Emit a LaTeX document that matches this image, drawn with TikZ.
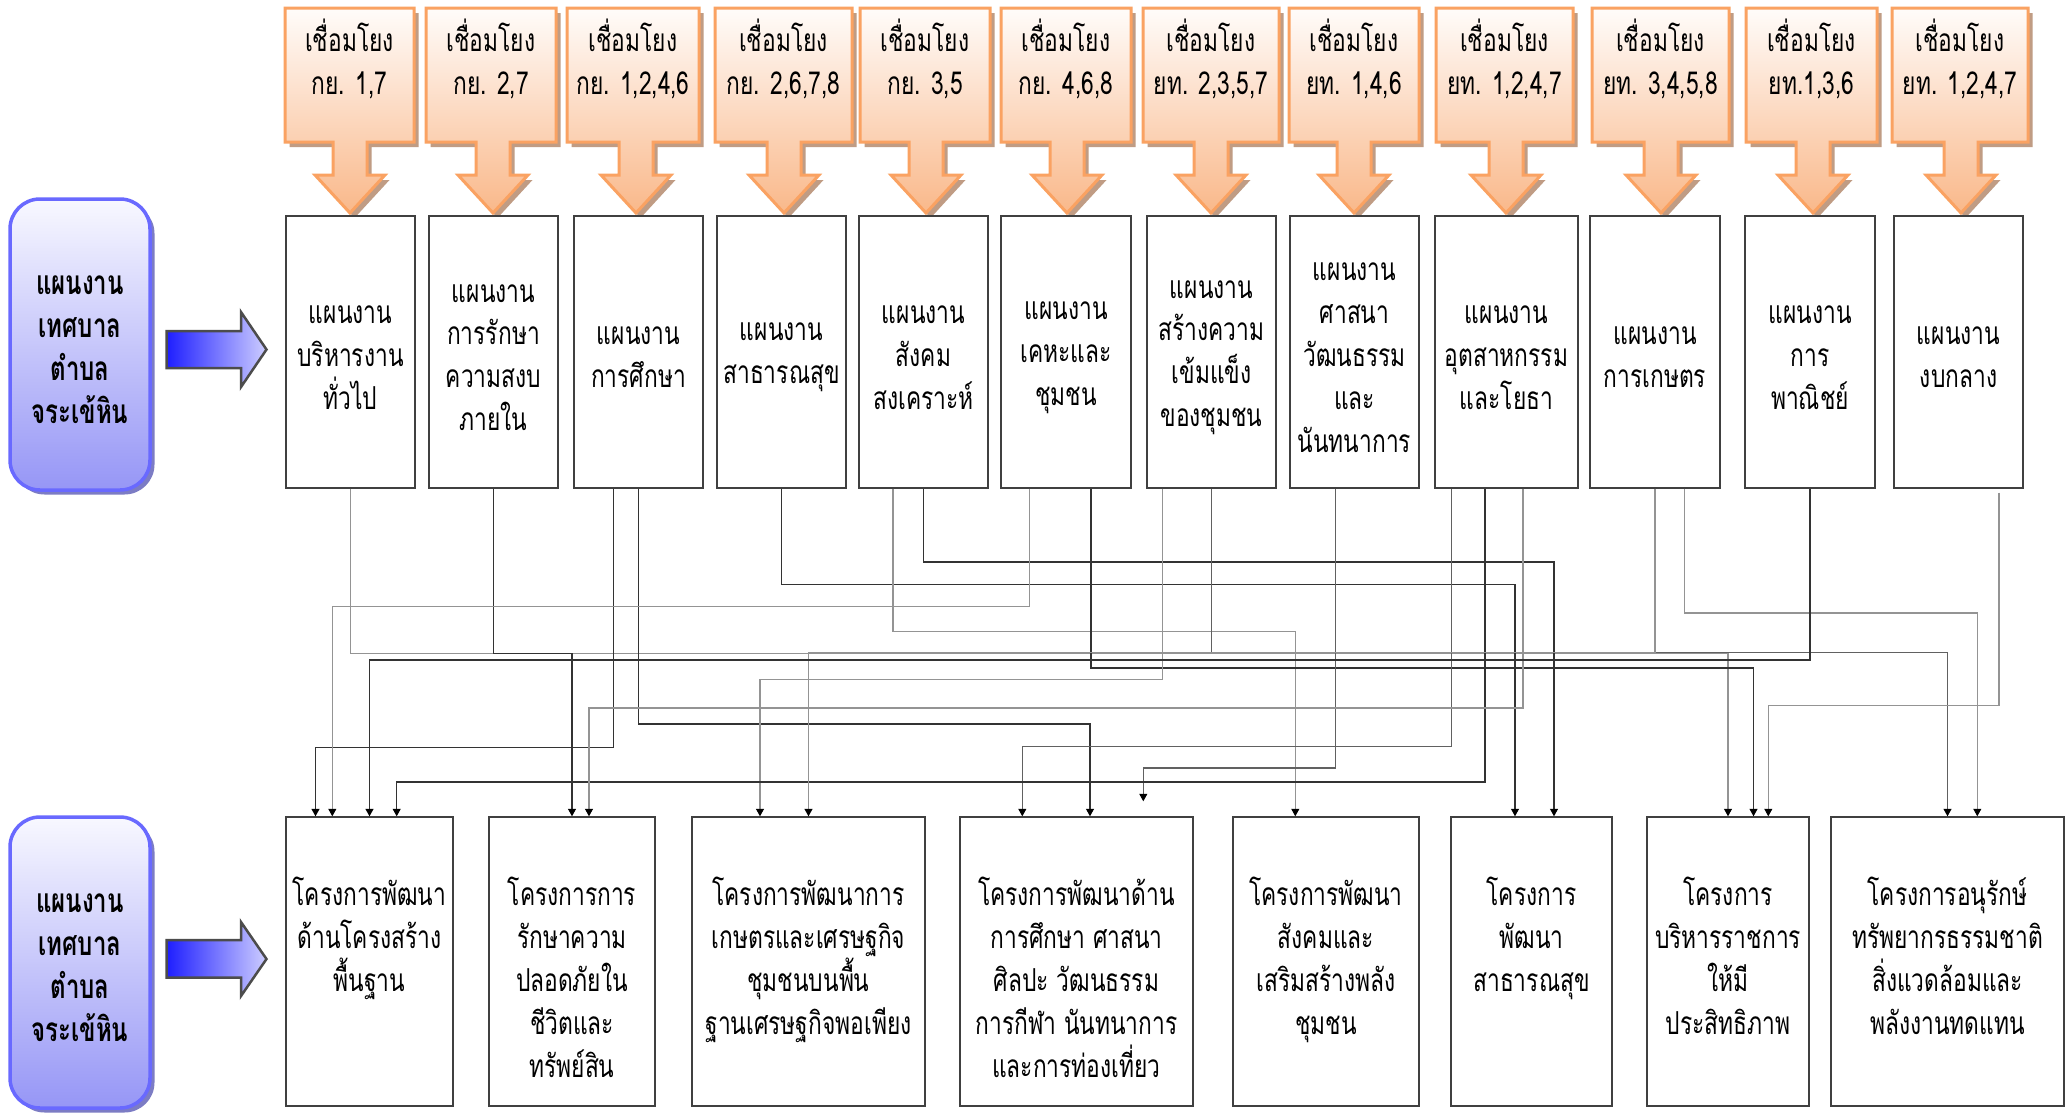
\documentclass[tikz,border=0pt]{standalone}
\usepackage{fontspec}
\newfontfamily\thaifont[Script=Thai,FakeStretch=0.72]{Loma}
\usetikzlibrary{calc,positioning,arrows.meta,shadows}

\definecolor{calloutline}{RGB}{250,162,98}
\definecolor{callouttop}{RGB}{255,252,250}
\definecolor{calloutbot}{RGB}{249,184,138}
\definecolor{calloutshade}{RGB}{192,156,132}
\definecolor{sideline}{RGB}{105,105,255}
\definecolor{sidetop}{RGB}{248,248,255}
\definecolor{sidebot}{RGB}{150,150,246}
\definecolor{sideshade}{RGB}{124,124,196}
\definecolor{arrowdeep}{RGB}{30,30,255}
\definecolor{arrowpale}{RGB}{205,205,255}

% down-pointing callout above each plan box
\newcommand{\callshape}[3]{%
  \path[callout] (#1,8) -- (#2,8) -- (#2,142) -- ({#3+17},142) -- ({#3+17},175)
    -- ({#3+35},175) -- (#3,213) -- ({#3-35},175) -- ({#3-17},175)
    -- ({#3-17},142) -- (#1,142) -- cycle;}
% lifts the first line so the text sits a little lower in its box
\newcommand{\pstrut}{\rule{0pt}{2.9mm}}

\begin{document}
\begin{tikzpicture}[x=0.1mm,y=-0.1mm,
    thai/.style={font=\thaifont\fontsize{9}{12.2}\selectfont},
    planbox/.style={thai,draw=black!75,line width=0.4pt,fill=white,minimum width=12.9mm,minimum height=27.2mm,align=center,inner sep=0pt},
    projbox/.style={draw=black!75,line width=0.4pt,fill=white,minimum height=28.9mm,inner sep=0pt},
    projtext/.style={thai,align=center,inner sep=0pt},
    calltext/.style={thai,align=center,inner sep=0pt},
    sidebox/.style={font=\thaifont\bfseries\fontsize{9.5}{12.3}\selectfont,align=center,draw=sideline,line width=0.35mm,rounded corners=3mm,top color=sidetop,bottom color=sidebot,minimum width=14mm,minimum height=29.1mm,drop shadow={shadow xshift=0.45mm,shadow yshift=-0.45mm,fill=sideshade,opacity=1}},
    callout/.style={top color=callouttop,bottom color=calloutbot,draw=calloutline,line width=0.3mm,drop shadow={shadow xshift=0.45mm,shadow yshift=-0.5mm,fill=calloutshade,opacity=1}},
    bigarrow/.style={left color=arrowdeep,right color=arrowpale,draw=black!70,line width=0.25mm},
    darklink/.style={draw=black!80,line width=0.3pt,-{Triangle[length=0.75mm,width=0.8mm,color=black]}},
    midlink/.style={draw=black!62,line width=0.3pt,-{Triangle[length=0.75mm,width=0.8mm,color=black]}},
    palelink/.style={draw=black!42,line width=0.3pt,-{Triangle[length=0.75mm,width=0.8mm,color=black]}}]
  \useasboundingbox (0,0) rectangle (2070,1113);
  \fill[white] (0,0) rectangle (2070,1113);

  % callouts
  \callshape{285}{414}{350}
  \callshape{426}{556}{493}
  \callshape{567}{699}{636}
  \callshape{715}{852}{784}
  \callshape{860}{990}{926}
  \callshape{1001}{1131}{1067}
  \callshape{1143}{1279}{1211}
  \callshape{1289}{1419}{1354}
  \callshape{1436}{1573}{1506}
  \callshape{1592}{1729}{1661}
  \callshape{1746}{1877}{1813}
  \callshape{1892}{2028}{1961}
  \node[calltext] (c1) at (349.5,59) {เชื่อมโยง\\กย. 1,7};
  \node[calltext] (c2) at (491,59) {เชื่อมโยง\\กย. 2,7};
  \node[calltext] (c3) at (633,59) {เชื่อมโยง\\กย. 1,2,4,6};
  \node[calltext] (c4) at (783.5,59) {เชื่อมโยง\\กย. 2,6,7,8};
  \node[calltext] (c5) at (925,59) {เชื่อมโยง\\กย. 3,5};
  \node[calltext] (c6) at (1066,59) {เชื่อมโยง\\กย. 4,6,8};
  \node[calltext] (c7) at (1211,59) {เชื่อมโยง\\ยท. 2,3,5,7};
  \node[calltext] (c8) at (1354,59) {เชื่อมโยง\\ยท. 1,4,6};
  \node[calltext] (c9) at (1504.5,59) {เชื่อมโยง\\ยท. 1,2,4,7};
  \node[calltext] (c10) at (1660.5,59) {เชื่อมโยง\\ยท. 3,4,5,8};
  \node[calltext] (c11) at (1811.5,59) {เชื่อมโยง\\ยท.1,3,6};
  \node[calltext] (c12) at (1960,59) {เชื่อมโยง\\ยท. 1,2,4,7};

  % side labels and block arrows
  \node[sidebox] (m1) at (80,344.5) {\pstrut แผนงาน\\เทศบาล\\ตำบล\\จระเข้หิน};
  \node[sidebox] (m2) at (80,962.5) {\pstrut แผนงาน\\เทศบาล\\ตำบล\\จระเข้หิน};
  \path[bigarrow] (166.5,331) -- (241,331) -- (241,312) -- (266.5,349.5) -- (241,387) -- (241,368) -- (166.5,368) -- cycle;
  \path[bigarrow] (166.5,940) -- (241,940) -- (241,922) -- (266.5,959) -- (241,996) -- (241,977.5) -- (166.5,977.5) -- cycle;

  % plan boxes
  \node[planbox] (p1) at (350.5,352) {\pstrut แผนงาน\\บริหารงาน\\ทั่วไป};
  \node[planbox] (p2) at (493.5,352) {\pstrut แผนงาน\\การรักษา\\ความสงบ\\ภายใน};
  \node[planbox] (p3) at (638.5,352) {\pstrut แผนงาน\\การศึกษา};
  \node[planbox] (p4) at (781.5,352) {\pstrut แผนงาน\\สาธารณสุข};
  \node[planbox] (p5) at (923.5,352) {\pstrut แผนงาน\\สังคม\\สงเคราะห์};
  \node[planbox,minimum width=13mm] (p6) at (1066,352) {\pstrut แผนงาน\\เคหะและ\\ชุมชน};
  \node[planbox] (p7) at (1211.5,352) {\pstrut แผนงาน\\สร้างความ\\เข้มแข็ง\\ของชุมชน};
  \node[planbox] (p8) at (1354.5,352) {\pstrut แผนงาน\\ศาสนา\\วัฒนธรรม\\และ\\นันทนาการ};
  \node[planbox,minimum width=14.3mm] (p9) at (1506.5,352) {\pstrut แผนงาน\\อุตสาหกรรม\\และโยธา};
  \node[planbox,minimum width=13mm] (p10) at (1655,352) {\pstrut แผนงาน\\การเกษตร};
  \node[planbox,minimum width=13mm] (p11) at (1810,352) {\pstrut แผนงาน\\การ\\พาณิชย์};
  \node[planbox] (p12) at (1958.5,352) {\pstrut แผนงาน\\งบกลาง};

  % project boxes
  \node[projbox,minimum width=16.7mm] (q1) at (369.5,961.5) {};
  \node[projbox,minimum width=16.6mm] (q2) at (572,961.5) {};
  \node[projbox,minimum width=23.3mm] (q3) at (808.5,961.5) {};
  \node[projbox,minimum width=23.3mm] (q4) at (1076.5,961.5) {};
  \node[projbox,minimum width=18.6mm] (q5) at (1326,961.5) {};
  \node[projbox,minimum width=16.1mm] (q6) at (1531.5,961.5) {};
  \node[projbox,minimum width=16.2mm] (q7) at (1728,961.5) {};
  \node[projbox,minimum width=23.3mm] (q8) at (1947.5,961.5) {};
  \node[projtext,below=6mm of q1.north] (t1) {โครงการพัฒนา\\ด้านโครงสร้าง\\พื้นฐาน};
  \node[projtext,below=6mm of q2.north] (t2) {โครงการการ\\รักษาความ\\ปลอดภัยใน\\ชีวิตและ\\ทรัพย์สิน};
  \node[projtext,below=6mm of q3.north] (t3) {โครงการพัฒนาการ\\เกษตรและเศรษฐกิจ\\ชุมชนบนพื้น\\ฐานเศรษฐกิจพอเพียง};
  \node[projtext,below=6mm of q4.north] (t4) {โครงการพัฒนาด้าน\\การศึกษา ศาสนา\\ศิลปะ วัฒนธรรม\\การกีฬา นันทนาการ\\และการท่องเที่ยว};
  \node[projtext,below=6mm of q5.north] (t5) {โครงการพัฒนา\\สังคมและ\\เสริมสร้างพลัง\\ชุมชน};
  \node[projtext,below=6mm of q6.north] (t6) {โครงการ\\พัฒนา\\สาธารณสุข};
  \node[projtext,below=6mm of q7.north] (t7) {โครงการ\\บริหารราชการ\\ให้มี\\ประสิทธิภาพ};
  \node[projtext,below=6mm of q8.north] (t8) {โครงการอนุรักษ์\\ทรัพยากรธรรมชาติ\\สิ่งแวดล้อมและ\\พลังงานทดแทน};

  % links from plans to projects
  \draw[palelink] (p1.south) -- ++(0,164.7) -| (q7.north);
  \draw[darklink] (p2.south) -- ++(0,164.7) -| (q2.north);
  \draw[darklink] ($(p3.south)+(-24.8,0)$) -- ++(0,259) -| ($(q1.north)+(-54,0)$);
  \draw[darklink] (p3.south) -- ++(0,235.3) -| ($(q4.north)+(13.5,0)$);
  \draw[darklink] (p4.south) -- ++(0,96) -| ($(q6.north)+(-16.5,0)$);
  \draw[palelink] ($(p5.south)+(-30.5,0)$) -- ++(0,142.7) -| ($(q5.north)+(-30.7,0)$);
  \draw[darklink] (p5.south) -- ++(0,73.3) -| ($(q6.north)+(22.5,0)$);
  \draw[palelink] ($(p6.south)+(-36.7,0)$) -- ++(0,117.7) -| ($(q1.north)+(-37.2,0)$);
  \draw[darklink] ($(p6.south)+(25,0)$) -- ++(0,179.3) -| ($(q7.north)+(25.5,0)$);
  \draw[palelink] ($(p7.south)+(-49.2,0)$) -- ++(0,190.7) -| ($(q3.north)+(-48.5,0)$);
  \draw[midlink] (p7.south) -- ++(0,164) -| (q8.north);
  \draw[midlink] ($(p8.south)+(-18.8,0)$) -- ++(0,279.3) -| ($(q4.north)+(66.8,-15)$);
  \draw[midlink] ($(p9.south)+(-55.2,0)$) -- ++(0,257.7) -| ($(q4.north)+(-54.2,0)$);
  \draw[darklink] ($(p9.south)+(-21.5,0)$) -- ++(0,293.3) -| ($(q1.north)+(27.2,0)$);
  \draw[palelink] ($(p9.south)+(16.5,0)$) -- ++(0,219.3) -| ($(q2.north)+(17,0)$);
  \draw[palelink] (p10.south) -- ++(0,164) -| (q3.north);
  \draw[palelink] ($(p10.south)+(29.7,0)$) -- ++(0,124.3) -| ($(q8.north)+(29.8,0)$);
  \draw[darklink] (p11.south) -- ++(0,171.3) -| (q1.north);
  \draw[palelink] ($(p12.south)+(40.5,4)$) -- ++(0,213) -| ($(q7.north)+(40.3,0)$);
\end{tikzpicture}
\end{document}
